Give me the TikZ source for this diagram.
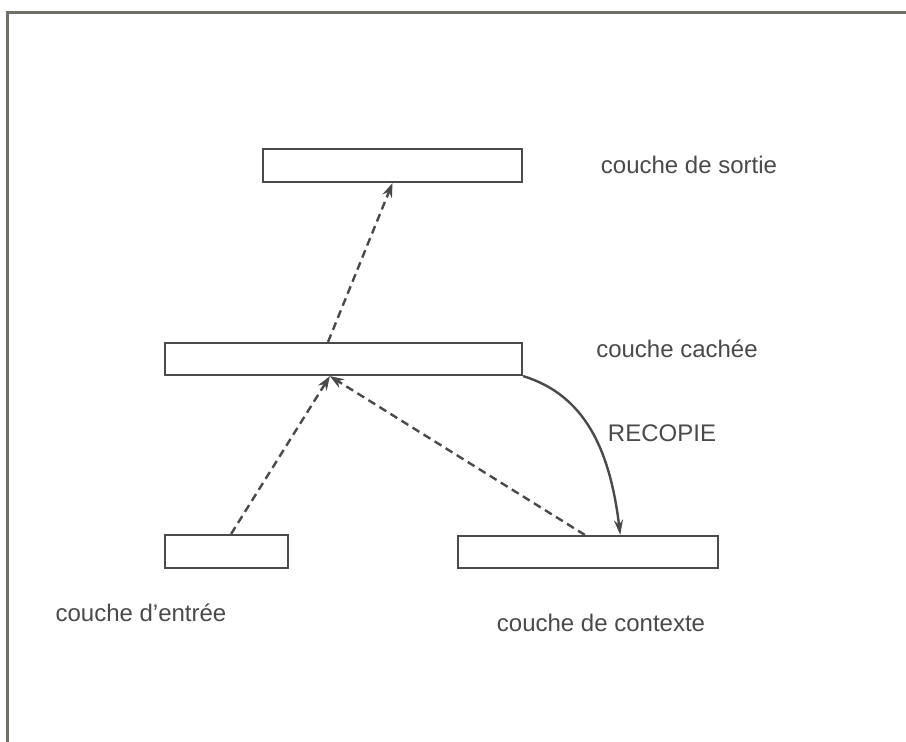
\documentclass[tikz,border=0pt]{standalone}
\usepackage{fontspec}
\setmainfont{Liberation Sans}
\usetikzlibrary{calc,arrows.meta}
\definecolor{ink}{HTML}{4A4A4A}
\definecolor{framec}{HTML}{707068}
\tikzset{
  layerbox/.style={draw=ink, line width=2.2pt, fill=white, inner sep=0pt},
  lbl/.style={text=ink, font=\fontsize{24}{28}\selectfont, inner sep=0pt},
  flow/.style={draw=ink, line width=2.4pt, dash pattern=on 8pt off 5pt, -{Stealth[length=14pt,width=10pt]}},
  copy/.style={draw=ink, line width=2.4pt, -{Stealth[length=15pt,width=9pt]}},
}
\begin{document}
\begin{tikzpicture}[x=1pt,y=-1pt]
\useasboundingbox (0,0) rectangle (906,742);
\fill[white] (0,0) rectangle (906,742);
\coordinate (ftl) at (7,12);
\coordinate (ftr) at (906,12);
\coordinate (fbl) at (7,742);
\draw[framec, line width=3pt] (fbl) -- (ftl) -- (ftr);

\node[layerbox, minimum width=259pt, minimum height=33pt] (sortie) at (392.5,165.5) {};
\node[layerbox, minimum width=357pt, minimum height=32pt] (cachee) at (343.5,359) {};
\node[layerbox, minimum width=123pt, minimum height=33pt] (entree) at (226.5,551.5) {};
\node[layerbox, minimum width=260pt, minimum height=32pt] (contexte) at (588,552) {};

\node[lbl] (lsortie) at (689,165) {couche de sortie};
\node[lbl] (lcachee) at (677,349) {couche cachée};
\node[lbl] (lrecopie) at (662,433) {RECOPIE};
\node[lbl] (lentree) at (141,613) {couche d\char"27 entrée};
\node[lbl] (lcontexte) at (601,623) {couche de contexte};

\coordinate (cTop) at ($(cachee.north west)!0.457!(cachee.north east)$);
\coordinate (cBot) at ($(cachee.south west)!0.462!(cachee.south east)$);
\coordinate (eTop) at ($(entree.north west)!0.537!(entree.north east)$);
\coordinate (xTop) at ($(contexte.north west)!0.488!(contexte.north east)$);
\coordinate (rEnd) at ($(contexte.north west)!0.623!(contexte.north east)$);

\draw[flow] (cTop) -- (sortie.south);
\draw[flow] (eTop) -- (cBot);
\draw[flow] (xTop) -- (cBot);
\draw[copy] (cachee.south east) .. controls (585,395) and (610,450) .. (rEnd);
\end{tikzpicture}
\end{document}
